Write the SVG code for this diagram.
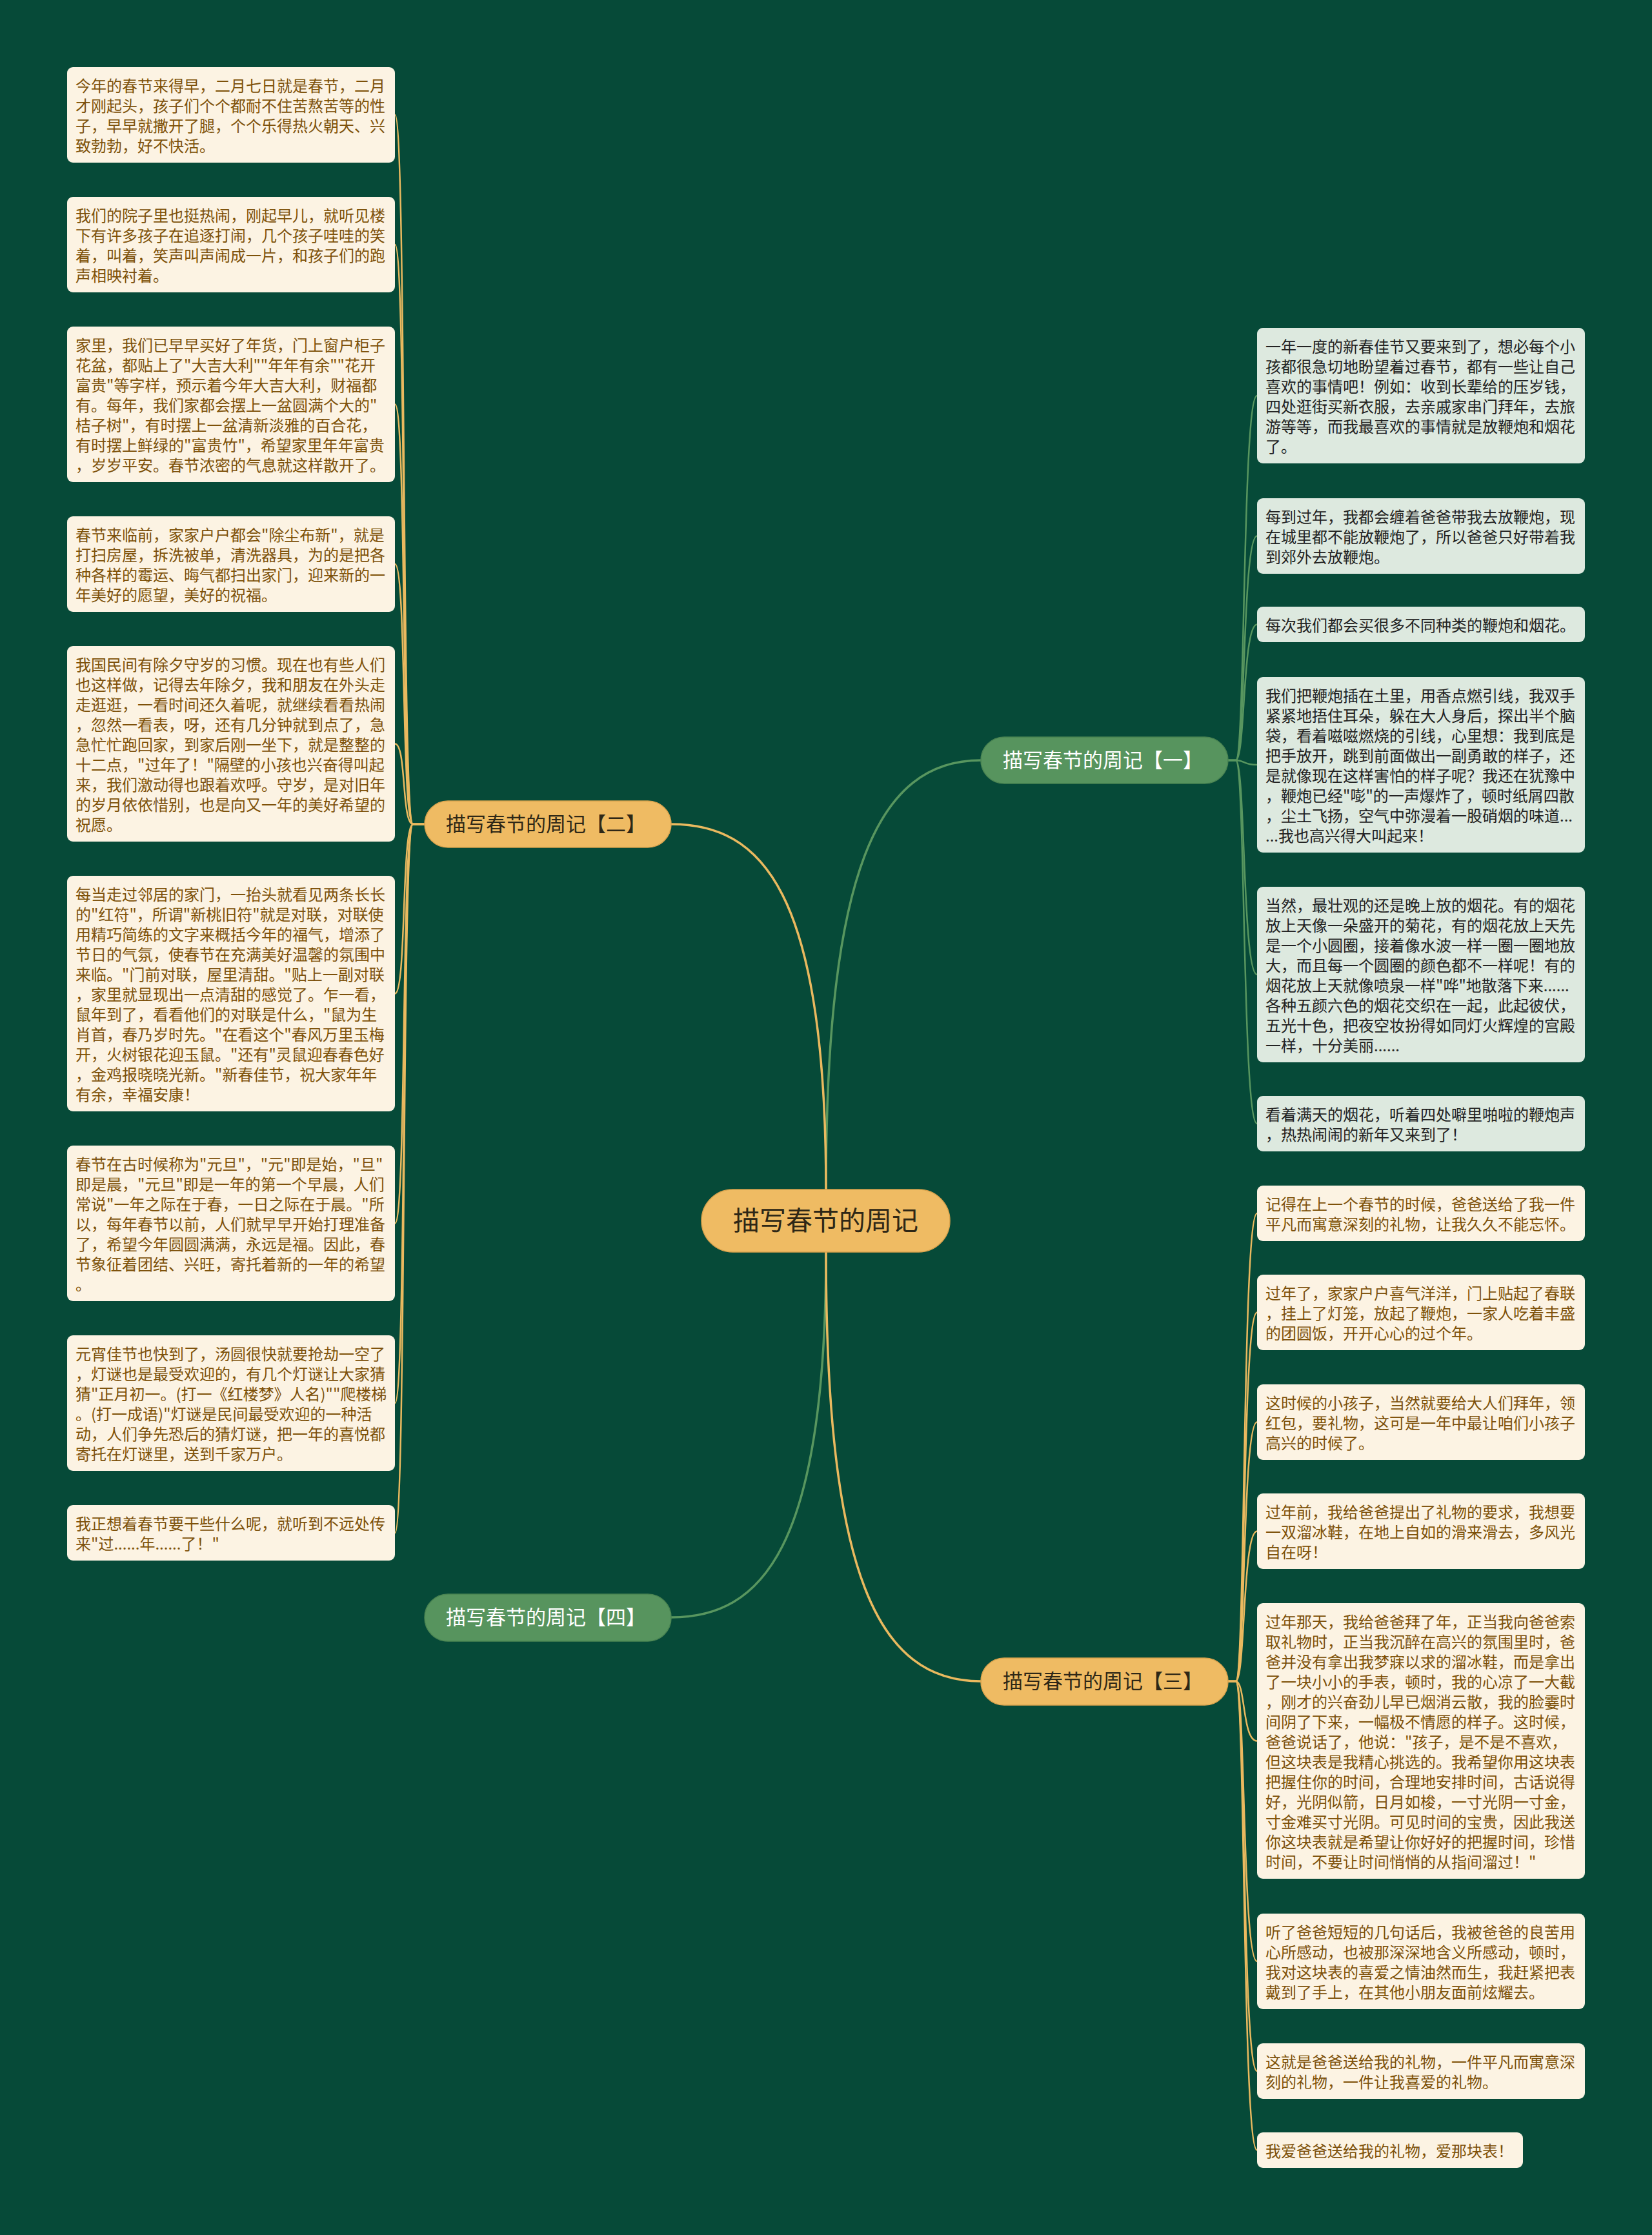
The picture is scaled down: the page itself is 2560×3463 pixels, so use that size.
<svg xmlns="http://www.w3.org/2000/svg" width="2560" height="3463" viewBox="0 0 2560 3463">
<style>
.bg{fill:#064a38}
.cy{fill:none;stroke:#eab95f;stroke-width:2.5}
.cg{fill:none;stroke:#58965f;stroke-width:2.5}
.my{fill:none;stroke:#eab95f;stroke-width:3.5}
.mg{fill:none;stroke:#58965f;stroke-width:3.5}
.cb{fill:#fcf3e3}
.gb{fill:#dde9df}
.t{font-family:"Noto Sans CJK SC","Noto Sans",sans-serif;font-size:24px}
.bt{fill:#7d5109}
.dt{fill:#222222}
.ny{fill:#efbb63;stroke:#d9a24c;stroke-width:1.5}
.ng{fill:#57945e;stroke:#4a8452;stroke-width:1.5}
.nt{font-family:"Noto Sans CJK SC","Noto Sans",sans-serif;font-size:31px;text-anchor:middle}
.rt{font-family:"Noto Sans CJK SC","Noto Sans",sans-serif;font-size:41px;text-anchor:middle;fill:#2e2716}
</style>
<rect class="bg" x="0" y="0" width="2560" height="3463"/>
<g id="connectors">
<path class="mg" d="M1280,1843 C1280,1350 1360,1178 1520,1178"/>
<path class="my" d="M1280,1843 C1280,1380 1180,1277 1040,1277"/>
<path class="mg" d="M1280,1940 C1280,2400 1180,2506 1040,2506"/>
<path class="my" d="M1280,1940 C1280,2440 1360,2605 1520,2605"/>
<path class="cy" d="M658,1277 L640,1277 C622,1277 630,178 612,178"/>
<path class="cy" d="M658,1277 L640,1277 C622,1277 630,379 612,379"/>
<path class="cy" d="M658,1277 L640,1277 C622,1277 630,626.5 612,626.5"/>
<path class="cy" d="M658,1277 L640,1277 C622,1277 630,874 612,874"/>
<path class="cy" d="M658,1277 L640,1277 C622,1277 630,1152.5 612,1152.5"/>
<path class="cy" d="M658,1277 L640,1277 C622,1277 630,1539.5 612,1539.5"/>
<path class="cy" d="M658,1277 L640,1277 C622,1277 630,1895.5 612,1895.5"/>
<path class="cy" d="M658,1277 L640,1277 C622,1277 630,2174 612,2174"/>
<path class="cy" d="M658,1277 L640,1277 C622,1277 630,2375 612,2375"/>
<path class="cg" d="M1903,1178 L1915,1178 C1930,1178 1925,613 1948,613"/>
<path class="cg" d="M1903,1178 L1915,1178 C1930,1178 1925,830.5 1948,830.5"/>
<path class="cg" d="M1903,1178 L1915,1178 C1930,1178 1925,967.5 1948,967.5"/>
<path class="cg" d="M1903,1178 L1915,1178 C1930,1178 1925,1185 1948,1185"/>
<path class="cg" d="M1903,1178 L1915,1178 C1930,1178 1925,1510 1948,1510"/>
<path class="cg" d="M1903,1178 L1915,1178 C1930,1178 1925,1741 1948,1741"/>
<path class="cy" d="M1903,2605 L1915,2605 C1930,2605 1925,1880 1948,1880"/>
<path class="cy" d="M1903,2605 L1915,2605 C1930,2605 1925,2033.5 1948,2033.5"/>
<path class="cy" d="M1903,2605 L1915,2605 C1930,2605 1925,2203.5 1948,2203.5"/>
<path class="cy" d="M1903,2605 L1915,2605 C1930,2605 1925,2372.5 1948,2372.5"/>
<path class="cy" d="M1903,2605 L1915,2605 C1930,2605 1925,2697.5 1948,2697.5"/>
<path class="cy" d="M1903,2605 L1915,2605 C1930,2605 1925,3039 1948,3039"/>
<path class="cy" d="M1903,2605 L1915,2605 C1930,2605 1925,3209 1948,3209"/>
<path class="cy" d="M1903,2605 L1915,2605 C1930,2605 1925,3331.5 1948,3331.5"/>
</g>
<g id="root"><rect class="ny" x="1087" y="1843" width="385" height="97" rx="48.5"/><text class="rt" x="1279.5" y="1906">描写春节的周记</text></g>
<g id="branch1"><rect class="ng" x="1520" y="1142" width="383" height="72" rx="36"/><text class="nt" x="1709" y="1189" fill="#ffffff">描写春节的周记【一】</text></g>
<g id="branch2"><rect class="ny" x="658" y="1241" width="382" height="72" rx="36"/><text class="nt" x="846" y="1288" fill="#2e2716">描写春节的周记【二】</text></g>
<g id="branch3"><rect class="ny" x="1520" y="2569" width="383" height="73" rx="36"/><text class="nt" x="1709" y="2616" fill="#2e2716">描写春节的周记【三】</text></g>
<g id="branch4"><rect class="ng" x="658" y="2470" width="382" height="73" rx="36"/><text class="nt" x="846" y="2517" fill="#ffffff">描写春节的周记【四】</text></g>
<g id="L1"><rect class="cb" x="104" y="104" width="508" height="148" rx="9"/><text class="t bt" x="117" y="142"><tspan x="117">今年的春节来得早，二月七日就是春节，二月</tspan><tspan x="117" dy="31">才刚起头，孩子们个个都耐不住苦熬苦等的性</tspan><tspan x="117" dy="31">子，早早就撒开了腿，个个乐得热火朝天、兴</tspan><tspan x="117" dy="31">致勃勃，好不快活。</tspan></text></g>
<g id="L2"><rect class="cb" x="104" y="305" width="508" height="148" rx="9"/><text class="t bt" x="117" y="343"><tspan x="117">我们的院子里也挺热闹，刚起早儿，就听见楼</tspan><tspan x="117" dy="31">下有许多孩子在追逐打闹，几个孩子哇哇的笑</tspan><tspan x="117" dy="31">着，叫着，笑声叫声闹成一片，和孩子们的跑</tspan><tspan x="117" dy="31">声相映衬着。</tspan></text></g>
<g id="L3"><rect class="cb" x="104" y="506" width="508" height="241" rx="9"/><text class="t bt" x="117" y="544"><tspan x="117">家里，我们已早早买好了年货，门上窗户柜子</tspan><tspan x="117" dy="31">花盆，都贴上了"大吉大利""年年有余""花开</tspan><tspan x="117" dy="31">富贵"等字样，预示着今年大吉大利，财福都</tspan><tspan x="117" dy="31">有。每年，我们家都会摆上一盆圆满个大的"</tspan><tspan x="117" dy="31">桔子树"，有时摆上一盆清新淡雅的百合花，</tspan><tspan x="117" dy="31">有时摆上鲜绿的"富贵竹"，希望家里年年富贵</tspan><tspan x="117" dy="31">，岁岁平安。春节浓密的气息就这样散开了。</tspan></text></g>
<g id="L4"><rect class="cb" x="104" y="800" width="508" height="148" rx="9"/><text class="t bt" x="117" y="838"><tspan x="117">春节来临前，家家户户都会"除尘布新"，就是</tspan><tspan x="117" dy="31">打扫房屋，拆洗被单，清洗器具，为的是把各</tspan><tspan x="117" dy="31">种各样的霉运、晦气都扫出家门，迎来新的一</tspan><tspan x="117" dy="31">年美好的愿望，美好的祝福。</tspan></text></g>
<g id="L5"><rect class="cb" x="104" y="1001" width="508" height="303" rx="9"/><text class="t bt" x="117" y="1039"><tspan x="117">我国民间有除夕守岁的习惯。现在也有些人们</tspan><tspan x="117" dy="31">也这样做，记得去年除夕，我和朋友在外头走</tspan><tspan x="117" dy="31">走逛逛，一看时间还久着呢，就继续看看热闹</tspan><tspan x="117" dy="31">，忽然一看表，呀，还有几分钟就到点了，急</tspan><tspan x="117" dy="31">急忙忙跑回家，到家后刚一坐下，就是整整的</tspan><tspan x="117" dy="31">十二点，"过年了！"隔壁的小孩也兴奋得叫起</tspan><tspan x="117" dy="31">来，我们激动得也跟着欢呼。守岁，是对旧年</tspan><tspan x="117" dy="31">的岁月依依惜别，也是向又一年的美好希望的</tspan><tspan x="117" dy="31">祝愿。</tspan></text></g>
<g id="L6"><rect class="cb" x="104" y="1357" width="508" height="365" rx="9"/><text class="t bt" x="117" y="1395"><tspan x="117">每当走过邻居的家门，一抬头就看见两条长长</tspan><tspan x="117" dy="31">的"红符"，所谓"新桃旧符"就是对联，对联使</tspan><tspan x="117" dy="31">用精巧简练的文字来概括今年的福气，增添了</tspan><tspan x="117" dy="31">节日的气氛，使春节在充满美好温馨的氛围中</tspan><tspan x="117" dy="31">来临。"门前对联，屋里清甜。"贴上一副对联</tspan><tspan x="117" dy="31">，家里就显现出一点清甜的感觉了。乍一看，</tspan><tspan x="117" dy="31">鼠年到了，看看他们的对联是什么，"鼠为生</tspan><tspan x="117" dy="31">肖首，春乃岁时先。"在看这个"春风万里玉梅</tspan><tspan x="117" dy="31">开，火树银花迎玉鼠。"还有"灵鼠迎春春色好</tspan><tspan x="117" dy="31">，金鸡报晓晓光新。"新春佳节，祝大家年年</tspan><tspan x="117" dy="31">有余，幸福安康！</tspan></text></g>
<g id="L7"><rect class="cb" x="104" y="1775" width="508" height="241" rx="9"/><text class="t bt" x="117" y="1813"><tspan x="117">春节在古时候称为"元旦"，"元"即是始，"旦"</tspan><tspan x="117" dy="31">即是晨，"元旦"即是一年的第一个早晨，人们</tspan><tspan x="117" dy="31">常说"一年之际在于春，一日之际在于晨。"所</tspan><tspan x="117" dy="31">以，每年春节以前，人们就早早开始打理准备</tspan><tspan x="117" dy="31">了，希望今年圆圆满满，永远是福。因此，春</tspan><tspan x="117" dy="31">节象征着团结、兴旺，寄托着新的一年的希望</tspan><tspan x="117" dy="31">。</tspan></text></g>
<g id="L8"><rect class="cb" x="104" y="2069" width="508" height="210" rx="9"/><text class="t bt" x="117" y="2107"><tspan x="117">元宵佳节也快到了，汤圆很快就要抢劫一空了</tspan><tspan x="117" dy="31">，灯谜也是最受欢迎的，有几个灯谜让大家猜</tspan><tspan x="117" dy="31">猜"正月初一。(打一《红楼梦》人名)""爬楼梯</tspan><tspan x="117" dy="31">。(打一成语)"灯谜是民间最受欢迎的一种活</tspan><tspan x="117" dy="31">动，人们争先恐后的猜灯谜，把一年的喜悦都</tspan><tspan x="117" dy="31">寄托在灯谜里，送到千家万户。</tspan></text></g>
<g id="L9"><rect class="cb" x="104" y="2332" width="508" height="86" rx="9"/><text class="t bt" x="117" y="2370"><tspan x="117">我正想着春节要干些什么呢，就听到不远处传</tspan><tspan x="117" dy="31">来"过......年......了！"</tspan></text></g>
<g id="R1"><rect class="gb" x="1948" y="508" width="508" height="210" rx="9"/><text class="t dt" x="1961" y="546"><tspan x="1961">一年一度的新春佳节又要来到了，想必每个小</tspan><tspan x="1961" dy="31">孩都很急切地盼望着过春节，都有一些让自己</tspan><tspan x="1961" dy="31">喜欢的事情吧！例如：收到长辈给的压岁钱，</tspan><tspan x="1961" dy="31">四处逛街买新衣服，去亲戚家串门拜年，去旅</tspan><tspan x="1961" dy="31">游等等，而我最喜欢的事情就是放鞭炮和烟花</tspan><tspan x="1961" dy="31">了。</tspan></text></g>
<g id="R2"><rect class="gb" x="1948" y="772" width="508" height="117" rx="9"/><text class="t dt" x="1961" y="810"><tspan x="1961">每到过年，我都会缠着爸爸带我去放鞭炮，现</tspan><tspan x="1961" dy="31">在城里都不能放鞭炮了，所以爸爸只好带着我</tspan><tspan x="1961" dy="31">到郊外去放鞭炮。</tspan></text></g>
<g id="R3"><rect class="gb" x="1948" y="940" width="508" height="55" rx="9"/><text class="t dt" x="1961" y="978">每次我们都会买很多不同种类的鞭炮和烟花。</text></g>
<g id="R4"><rect class="gb" x="1948" y="1049" width="508" height="272" rx="9"/><text class="t dt" x="1961" y="1087"><tspan x="1961">我们把鞭炮插在土里，用香点燃引线，我双手</tspan><tspan x="1961" dy="31">紧紧地捂住耳朵，躲在大人身后，探出半个脑</tspan><tspan x="1961" dy="31">袋，看着嗞嗞燃烧的引线，心里想：我到底是</tspan><tspan x="1961" dy="31">把手放开，跳到前面做出一副勇敢的样子，还</tspan><tspan x="1961" dy="31">是就像现在这样害怕的样子呢？我还在犹豫中</tspan><tspan x="1961" dy="31">，鞭炮已经"嘭"的一声爆炸了，顿时纸屑四散</tspan><tspan x="1961" dy="31">，尘土飞扬，空气中弥漫着一股硝烟的味道...</tspan><tspan x="1961" dy="31">...我也高兴得大叫起来！</tspan></text></g>
<g id="R5"><rect class="gb" x="1948" y="1374" width="508" height="272" rx="9"/><text class="t dt" x="1961" y="1412"><tspan x="1961">当然，最壮观的还是晚上放的烟花。有的烟花</tspan><tspan x="1961" dy="31">放上天像一朵盛开的菊花，有的烟花放上天先</tspan><tspan x="1961" dy="31">是一个小圆圈，接着像水波一样一圈一圈地放</tspan><tspan x="1961" dy="31">大，而且每一个圆圈的颜色都不一样呢！有的</tspan><tspan x="1961" dy="31">烟花放上天就像喷泉一样"哗"地散落下来......</tspan><tspan x="1961" dy="31">各种五颜六色的烟花交织在一起，此起彼伏，</tspan><tspan x="1961" dy="31">五光十色，把夜空妆扮得如同灯火辉煌的宫殿</tspan><tspan x="1961" dy="31">一样，十分美丽......</tspan></text></g>
<g id="R6"><rect class="gb" x="1948" y="1698" width="508" height="86" rx="9"/><text class="t dt" x="1961" y="1736"><tspan x="1961">看着满天的烟花，听着四处噼里啪啦的鞭炮声</tspan><tspan x="1961" dy="31">，热热闹闹的新年又来到了！</tspan></text></g>
<g id="R7"><rect class="cb" x="1948" y="1837" width="508" height="86" rx="9"/><text class="t bt" x="1961" y="1875"><tspan x="1961">记得在上一个春节的时候，爸爸送给了我一件</tspan><tspan x="1961" dy="31">平凡而寓意深刻的礼物，让我久久不能忘怀。</tspan></text></g>
<g id="R8"><rect class="cb" x="1948" y="1975" width="508" height="117" rx="9"/><text class="t bt" x="1961" y="2013"><tspan x="1961">过年了，家家户户喜气洋洋，门上贴起了春联</tspan><tspan x="1961" dy="31">，挂上了灯笼，放起了鞭炮，一家人吃着丰盛</tspan><tspan x="1961" dy="31">的团圆饭，开开心心的过个年。</tspan></text></g>
<g id="R9"><rect class="cb" x="1948" y="2145" width="508" height="117" rx="9"/><text class="t bt" x="1961" y="2183"><tspan x="1961">这时候的小孩子，当然就要给大人们拜年，领</tspan><tspan x="1961" dy="31">红包，要礼物，这可是一年中最让咱们小孩子</tspan><tspan x="1961" dy="31">高兴的时候了。</tspan></text></g>
<g id="R10"><rect class="cb" x="1948" y="2314" width="508" height="117" rx="9"/><text class="t bt" x="1961" y="2352"><tspan x="1961">过年前，我给爸爸提出了礼物的要求，我想要</tspan><tspan x="1961" dy="31">一双溜冰鞋，在地上自如的滑来滑去，多风光</tspan><tspan x="1961" dy="31">自在呀！</tspan></text></g>
<g id="R11"><rect class="cb" x="1948" y="2484" width="508" height="427" rx="9"/><text class="t bt" x="1961" y="2522"><tspan x="1961">过年那天，我给爸爸拜了年，正当我向爸爸索</tspan><tspan x="1961" dy="31">取礼物时，正当我沉醉在高兴的氛围里时，爸</tspan><tspan x="1961" dy="31">爸并没有拿出我梦寐以求的溜冰鞋，而是拿出</tspan><tspan x="1961" dy="31">了一块小小的手表，顿时，我的心凉了一大截</tspan><tspan x="1961" dy="31">，刚才的兴奋劲儿早已烟消云散，我的脸霎时</tspan><tspan x="1961" dy="31">间阴了下来，一幅极不情愿的样子。这时候，</tspan><tspan x="1961" dy="31">爸爸说话了，他说："孩子，是不是不喜欢，</tspan><tspan x="1961" dy="31">但这块表是我精心挑选的。我希望你用这块表</tspan><tspan x="1961" dy="31">把握住你的时间，合理地安排时间，古话说得</tspan><tspan x="1961" dy="31">好，光阴似箭，日月如梭，一寸光阴一寸金，</tspan><tspan x="1961" dy="31">寸金难买寸光阴。可见时间的宝贵，因此我送</tspan><tspan x="1961" dy="31">你这块表就是希望让你好好的把握时间，珍惜</tspan><tspan x="1961" dy="31">时间，不要让时间悄悄的从指间溜过！"</tspan></text></g>
<g id="R12"><rect class="cb" x="1948" y="2965" width="508" height="148" rx="9"/><text class="t bt" x="1961" y="3003"><tspan x="1961">听了爸爸短短的几句话后，我被爸爸的良苦用</tspan><tspan x="1961" dy="31">心所感动，也被那深深地含义所感动，顿时，</tspan><tspan x="1961" dy="31">我对这块表的喜爱之情油然而生，我赶紧把表</tspan><tspan x="1961" dy="31">戴到了手上，在其他小朋友面前炫耀去。</tspan></text></g>
<g id="R13"><rect class="cb" x="1948" y="3166" width="508" height="86" rx="9"/><text class="t bt" x="1961" y="3204"><tspan x="1961">这就是爸爸送给我的礼物，一件平凡而寓意深</tspan><tspan x="1961" dy="31">刻的礼物，一件让我喜爱的礼物。</tspan></text></g>
<g id="R14"><rect class="cb" x="1948" y="3304" width="412" height="55" rx="9"/><text class="t bt" x="1961" y="3342">我爱爸爸送给我的礼物，爱那块表！</text></g>
</svg>
